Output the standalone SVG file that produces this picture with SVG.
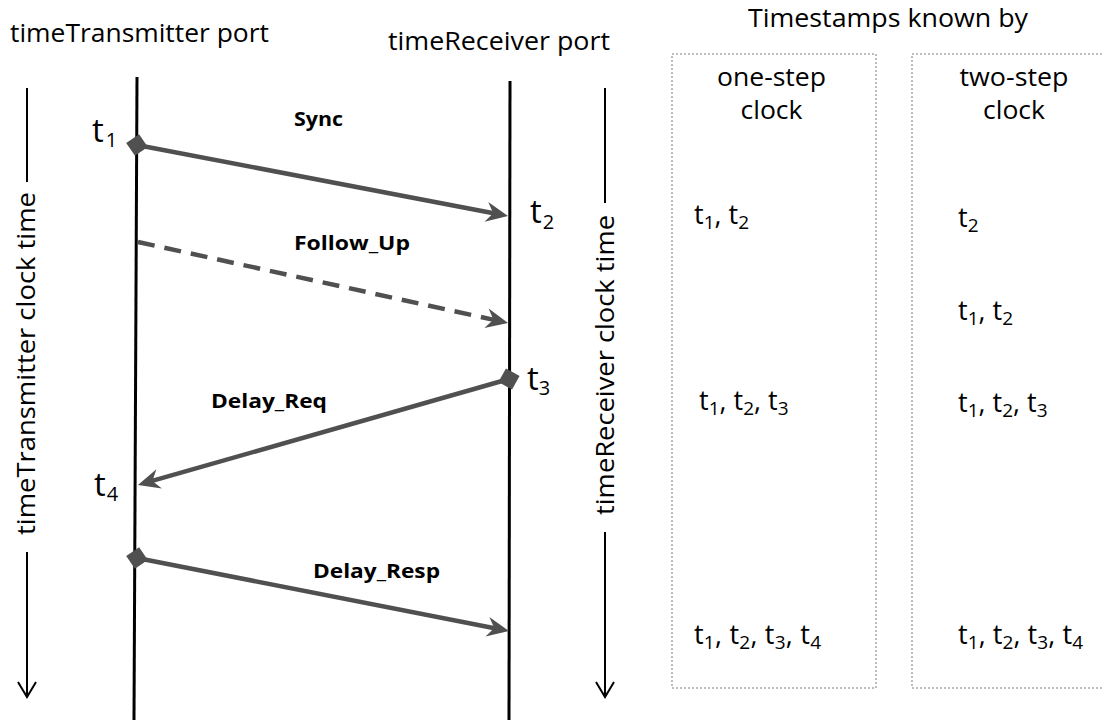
<svg xmlns="http://www.w3.org/2000/svg" width="1104" height="726" viewBox="0 0 1104 726">
  <defs>
    <style>
      .t { font-family: "Open Sans", "Liberation Sans", sans-serif; fill: #000; }
      .title { font-size: 25px; }
      .lbl { font-size: 20px; font-weight: bold; }
      .big { font-size: 33px; }
      .bigsub { font-size: 20px; }
      .ts { font-size: 27px; }
      .tssub { font-size: 19px; }
      .msg { stroke: #505050; stroke-width: 4.5; fill: none; }
      .life { stroke: #000; stroke-width: 3; fill: none; }
      .axis { stroke: #000; stroke-width: 2; fill: none; }
      .box { stroke: #a6a6a6; stroke-width: 1.5; stroke-dasharray: 2 2; fill: none; }
    </style>
    <marker id="arr" markerUnits="userSpaceOnUse" viewBox="-24 -12 26 24" markerWidth="26" markerHeight="24" refX="-12" refY="0" orient="auto">
      <path d="M0,0 L-22,-10 L-15,0 L-22,10 Z" fill="#505050"/>
    </marker>
    <marker id="dia" markerUnits="userSpaceOnUse" viewBox="-12 -12 24 24" markerWidth="24" markerHeight="24" refX="0" refY="0" orient="auto">
      <path d="M-11,0 L0,-11 L11,0 L0,11 Z" fill="#505050"/>
    </marker>
  </defs>

  <!-- headers -->
  <g id="hdr-tx"><text class="t title" x="10" y="42" textLength="259" lengthAdjust="spacingAndGlyphs">timeTransmitter port</text></g>
  <g id="hdr-rx"><text class="t title" x="388" y="50" textLength="222" lengthAdjust="spacingAndGlyphs">timeReceiver port</text></g>
  <g id="hdr-ts"><text class="t title" x="748" y="27" textLength="280" lengthAdjust="spacingAndGlyphs">Timestamps known by</text></g>

  <!-- time axes -->
  <g id="axis-tx">
    <line class="axis" x1="27" y1="88" x2="27" y2="182"/>
    <line class="axis" x1="27" y1="552" x2="27" y2="696"/>
    <polyline class="axis" points="18,682 27,697 36,682"/>
    <text class="t title" transform="translate(35,363.5) rotate(-90)" text-anchor="middle" textLength="343" lengthAdjust="spacingAndGlyphs">timeTransmitter clock time</text>
  </g>
  <g id="axis-rx">
    <line class="axis" x1="605" y1="88" x2="605" y2="203"/>
    <line class="axis" x1="605" y1="532" x2="605" y2="696"/>
    <polyline class="axis" points="596,682 605,697 614,682"/>
    <text class="t title" transform="translate(614,365) rotate(-90)" text-anchor="middle" textLength="300" lengthAdjust="spacingAndGlyphs">timeReceiver clock time</text>
  </g>

  <!-- lifelines -->
  <g id="life-tx"><line class="life" x1="137" y1="77" x2="134" y2="720"/></g>
  <g id="life-rx"><line class="life" x1="510" y1="81" x2="509" y2="720"/></g>

  <!-- boxes -->
  <g id="box-one">
    <rect class="box" x="672" y="54" width="204" height="634"/>
    <text class="t title" x="771.5" y="86" text-anchor="middle" textLength="109" lengthAdjust="spacingAndGlyphs">one-step</text>
    <text class="t title" x="771.5" y="119" text-anchor="middle" textLength="62" lengthAdjust="spacingAndGlyphs">clock</text>
    <text class="t ts" x="694" y="224">t<tspan class="tssub" dy="5">1</tspan><tspan dy="-5">, t</tspan><tspan class="tssub" dy="5">2</tspan></text>
    <text class="t ts" x="699" y="410">t<tspan class="tssub" dy="5">1</tspan><tspan dy="-5">, t</tspan><tspan class="tssub" dy="5">2</tspan><tspan dy="-5">, t</tspan><tspan class="tssub" dy="5">3</tspan></text>
    <text class="t ts" x="694" y="644" textLength="127" lengthAdjust="spacing">t<tspan class="tssub" dy="5">1</tspan><tspan dy="-5">, t</tspan><tspan class="tssub" dy="5">2</tspan><tspan dy="-5">, t</tspan><tspan class="tssub" dy="5">3</tspan><tspan dy="-5">, t</tspan><tspan class="tssub" dy="5">4</tspan></text>
  </g>
  <g id="box-two">
    <rect class="box" x="912" y="54" width="204" height="634"/>
    <text class="t title" x="1014" y="86" text-anchor="middle" textLength="109" lengthAdjust="spacingAndGlyphs">two-step</text>
    <text class="t title" x="1014" y="119" text-anchor="middle" textLength="62" lengthAdjust="spacingAndGlyphs">clock</text>
    <text class="t ts" x="958" y="227">t<tspan class="tssub" dy="5">2</tspan></text>
    <text class="t ts" x="958" y="320">t<tspan class="tssub" dy="5">1</tspan><tspan dy="-5">, t</tspan><tspan class="tssub" dy="5">2</tspan></text>
    <text class="t ts" x="958" y="412">t<tspan class="tssub" dy="5">1</tspan><tspan dy="-5">, t</tspan><tspan class="tssub" dy="5">2</tspan><tspan dy="-5">, t</tspan><tspan class="tssub" dy="5">3</tspan></text>
    <text class="t ts" x="958" y="644" textLength="125" lengthAdjust="spacing">t<tspan class="tssub" dy="5">1</tspan><tspan dy="-5">, t</tspan><tspan class="tssub" dy="5">2</tspan><tspan dy="-5">, t</tspan><tspan class="tssub" dy="5">3</tspan><tspan dy="-5">, t</tspan><tspan class="tssub" dy="5">4</tspan></text>
  </g>

  <!-- event labels -->
  <g id="ev-t1"><text class="t big" x="92" y="142">t<tspan class="bigsub" dx="2" dy="5">1</tspan></text></g>
  <g id="ev-t2"><text class="t big" x="530" y="223">t<tspan class="bigsub" dx="1" dy="6">2</tspan></text></g>
  <g id="ev-t3"><text class="t big" x="527" y="390">t<tspan class="bigsub" dx="0" dy="5">3</tspan></text></g>
  <g id="ev-t4"><text class="t big" x="94" y="496">t<tspan class="bigsub" dx="1" dy="5">4</tspan></text></g>

  <!-- connectors -->
  <g id="connectors">
    <line class="msg" x1="137" y1="145" x2="496.2" y2="213.7" marker-start="url(#dia)" marker-end="url(#arr)"/>
    <line class="msg" x1="138" y1="242" x2="496.3" y2="320.4" stroke-dasharray="17 10" marker-end="url(#arr)"/>
    <line class="msg" x1="509" y1="379" x2="149.5" y2="481.7" marker-start="url(#dia)" marker-end="url(#arr)"/>
    <line class="msg" x1="137" y1="558" x2="497.2" y2="628.7" marker-start="url(#dia)" marker-end="url(#arr)"/>
  </g>

  <!-- message labels -->
  <g id="lbl-sync"><text class="t lbl" x="294" y="126" textLength="49" lengthAdjust="spacingAndGlyphs">Sync</text></g>
  <g id="lbl-fu"><text class="t lbl" x="294" y="250" textLength="116" lengthAdjust="spacingAndGlyphs">Follow_Up</text></g>
  <g id="lbl-dreq"><text class="t lbl" x="211" y="408" textLength="116" lengthAdjust="spacingAndGlyphs">Delay_Req</text></g>
  <g id="lbl-dresp"><text class="t lbl" x="313" y="578" textLength="127" lengthAdjust="spacingAndGlyphs">Delay_Resp</text></g>
</svg>
